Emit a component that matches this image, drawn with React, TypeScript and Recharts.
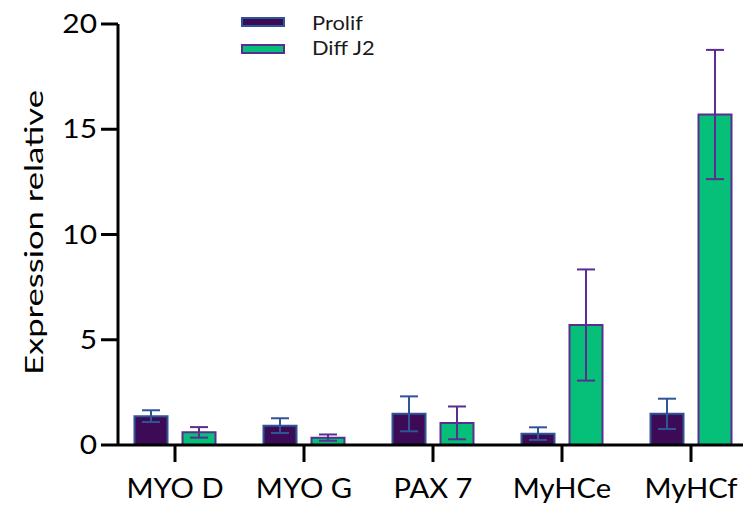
import React from 'react';
import { BarChart, Bar, XAxis, YAxis, ErrorBar, Label } from 'recharts';

const categories = ['MYO D', 'MYO G', 'PAX 7', 'MyHCe', 'MyHCf'];
const prolif = [1.37, 0.92, 1.48, 0.54, 1.48];
const prolifErr = [0.28, 0.35, 0.83, 0.3, 0.72];
const diff = [0.6, 0.35, 1.05, 5.7, 15.7];
const diffErr = [0.25, 0.15, 0.78, 2.64, 3.07];
const yTicks = [0, 5, 10, 15, 20];
const seriesNames = ['Prolif', 'Diff J2'];

const data = categories.map((c, i) => ({
  name: c,
  prolif: prolif[i],
  prolifErr: prolifErr[i],
  diff: diff[i],
  diffErr: diffErr[i],
}));

const FONT = 'Lato, "Open Sans", sans-serif';
const PROLIF_FILL = '#3d0a56';
const PROLIF_STROKE = '#2f5597';
const DIFF_FILL = '#06bf79';
const DIFF_STROKE = '#5a2d90';

const stretch = (x: number, s: number) => `translate(${x * (1 - s)},0) scale(${s},1)`;

const XTick = (props: any) => {
  const { x, y, payload } = props;
  return (
    <text
      x={x}
      y={y}
      dy="0.71em"
      textAnchor="middle"
      fontFamily={FONT}
      fontSize={27}
      fill="#000"
      transform={stretch(x, 1.08)}
    >
      {payload.value}
    </text>
  );
};

const YTick = (props: any) => {
  const { x, y, payload } = props;
  return (
    <text
      x={x}
      y={y}
      dy="0.355em"
      textAnchor="end"
      fontFamily={FONT}
      fontSize={26}
      fill="#000"
      transform={stretch(x, 1.15)}
    >
      {payload.value}
    </text>
  );
};

const legendItems = [
  { label: seriesNames[0], fill: PROLIF_FILL, stroke: PROLIF_STROKE, top: 17, baseline: 30 },
  { label: seriesNames[1], fill: DIFF_FILL, stroke: DIFF_STROKE, top: 44, baseline: 55 },
];

const LegendBox = () => (
  <svg style={{ position: 'absolute', left: 0, top: 0 }} width={743} height={70}>
    {legendItems.map((it) => (
      <g key={it.label}>
        <rect x={242} y={it.top + 1} width={42} height={8} fill={it.fill} stroke={it.stroke} strokeWidth={2} />
        <text
          x={312}
          y={it.baseline}
          fontFamily={FONT}
          fontSize={19.5}
          fill="#1a1a1a"
          transform={stretch(312, 1.12)}
        >
          {it.label}
        </text>
      </g>
    ))}
  </svg>
);

const YLabel = () => (
  <text
    x={43}
    y={232.5}
    transform="rotate(-90 43 232.5)"
    textAnchor="middle"
    fontFamily={FONT}
    fontSize={25}
    fill="#000"
    textLength={285}
    lengthAdjust="spacingAndGlyphs"
  >
    Expression relative
  </text>
);

export default function App() {
  return (
    <div style={{ position: 'absolute', left: 0, top: 0, width: 743, height: 505, overflow: 'hidden', background: '#fff' }}>
      <BarChart
        width={770}
        height={505}
        data={data}
        margin={{ top: 24, right: 14.5, left: 0, bottom: 10 }}
        barSize={33}
        barGap={15}
      >
        <XAxis
          dataKey="name"
          height={50}
          padding={{ left: -7.5, right: 0 }}
          axisLine={{ stroke: '#000', strokeWidth: 3 }}
          tickLine={{ stroke: '#000', strokeWidth: 3 }}
          tickSize={17}
          tickMargin={17}
          tick={<XTick />}
          interval={0}
        />
        <YAxis
          width={118}
          domain={[0, 20]}
          ticks={yTicks}
          axisLine={{ stroke: '#000', strokeWidth: 3 }}
          tickLine={{ stroke: '#000', strokeWidth: 3 }}
          tickSize={17}
          tickMargin={4}
          tick={<YTick />}
          allowDataOverflow
        >
          <Label content={YLabel} />
        </YAxis>
        <Bar dataKey="prolif" name={seriesNames[0]} fill={PROLIF_FILL} stroke={PROLIF_STROKE} strokeWidth={2} isAnimationActive={false}>
          <ErrorBar dataKey="prolifErr" width={9} strokeWidth={2} stroke={PROLIF_STROKE} />
        </Bar>
        <Bar dataKey="diff" name={seriesNames[1]} fill={DIFF_FILL} stroke={DIFF_STROKE} strokeWidth={2} isAnimationActive={false}>
          <ErrorBar dataKey="diffErr" width={9} strokeWidth={2} stroke={DIFF_STROKE} />
        </Bar>
      </BarChart>
      <LegendBox />
    </div>
  );
}
